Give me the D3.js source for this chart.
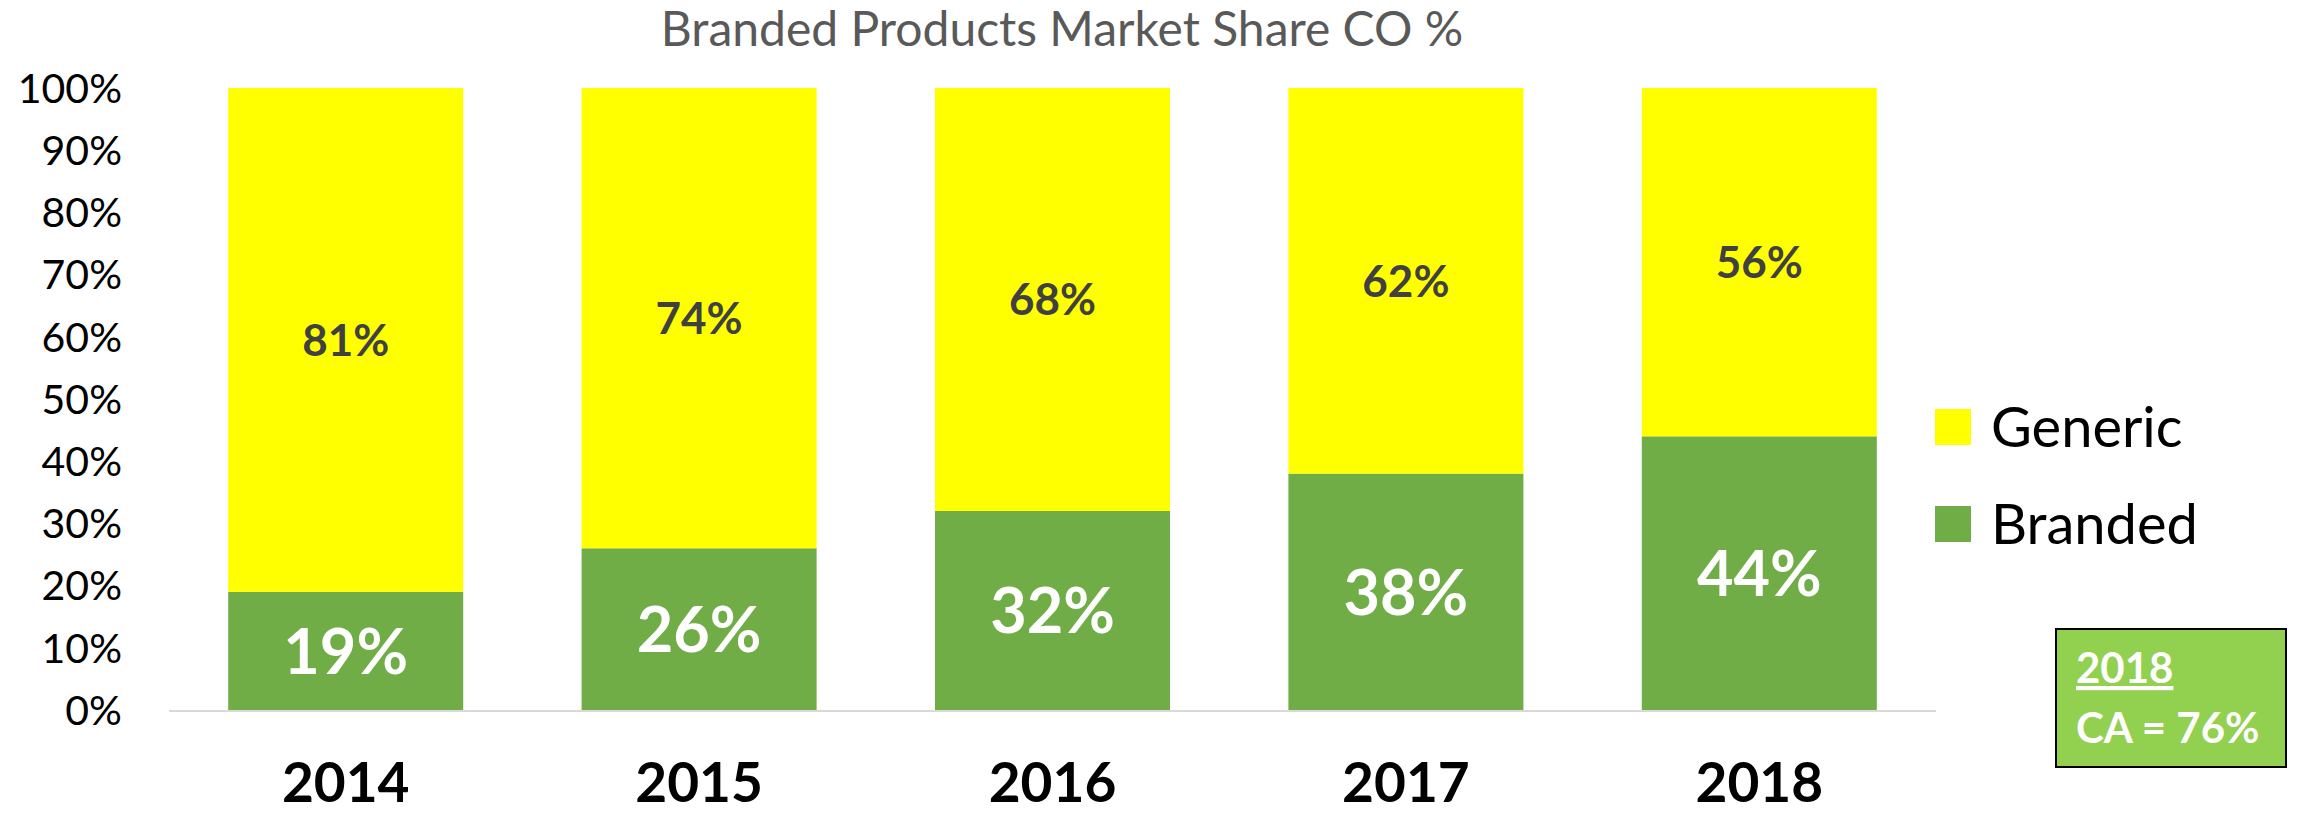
<!DOCTYPE html>
<html>
<head>
<meta charset="utf-8">
<script src="https://cdn.jsdelivr.net/npm/d3@7"></script>
<style>
  body { margin: 0; background: #fff; }
  svg { display: block; font-family: Lato, "Open Sans", sans-serif; }
</style>
</head>
<body>
<svg></svg>
<script>
const years = ["2014", "2015", "2016", "2017", "2018"];
const branded = [19, 26, 32, 38, 44];
const generic = [81, 74, 68, 62, 56];
const yTicks = [0, 10, 20, 30, 40, 50, 60, 70, 80, 90, 100];
const seriesNames = ["Generic", "Branded"];
const noteYear = "2018";
const noteText = "CA = 76%";

const width = 2300;
const height = 816;
const svg = d3.select("svg")
              .attr("width", width)
              .attr("height", height);

const x = d3.scaleBand()
  .domain(years)
  .range([169, 1936])
  .paddingInner(0.335)
  .paddingOuter(0.1675);

const y = d3.scaleLinear().domain([0, 100]).range([710, 88]);

const colors = { Generic: "#FFFF00", Branded: "#70AD47" };

// title
svg.append("text")
  .attr("x", 1062).attr("y", 46)
  .attr("text-anchor", "middle")
  .attr("font-size", 48)
  .attr("fill", "#595959")
  .text("Branded Products Market Share CO %");

// y axis labels (no line)
svg.append("g").selectAll("text")
  .data(yTicks)
  .enter().append("text")
    .attr("x", 122)
    .attr("y", d => y(d))
    .attr("dy", "0.36em")
    .attr("text-anchor", "end")
    .attr("font-size", 41)
    .attr("fill", "#000")
    .text(d => d + "%");

const rows = years.map((yr, i) => ({ year: yr, b: branded[i], g: generic[i] }));

// branded segment
svg.append("g").selectAll("rect")
  .data(rows)
  .enter().append("rect")
    .attr("x", d => x(d.year))
    .attr("width", x.bandwidth())
    .attr("y", d => y(d.b))
    .attr("height", d => y(0) - y(d.b))
    .attr("fill", colors.Branded);

// generic segment on top
svg.append("g").selectAll("rect")
  .data(rows)
  .enter().append("rect")
    .attr("x", d => x(d.year))
    .attr("width", x.bandwidth())
    .attr("y", d => y(d.b + d.g))
    .attr("height", d => y(d.b) - y(d.b + d.g))
    .attr("fill", colors.Generic);

// baseline
svg.append("line")
  .attr("x1", 169).attr("x2", 1936)
  .attr("y1", y(0) + 1).attr("y2", y(0) + 1)
  .attr("stroke", "#D9D9D9")
  .attr("stroke-width", 2);

// labels
svg.append("g").selectAll("text")
  .data(rows)
  .enter().append("text")
    .attr("x", d => x(d.year) + x.bandwidth() / 2)
    .attr("y", d => y(d.b / 2))
    .attr("dy", "0.36em")
    .attr("text-anchor", "middle")
    .attr("font-size", 63)
    .attr("font-weight", "bold")
    .attr("fill", "#fff")
    .text(d => d.b + "%");

svg.append("g").selectAll("text")
  .data(rows)
  .enter().append("text")
    .attr("x", d => x(d.year) + x.bandwidth() / 2)
    .attr("y", d => y(d.b + d.g / 2))
    .attr("dy", "0.36em")
    .attr("text-anchor", "middle")
    .attr("font-size", 44)
    .attr("font-weight", "bold")
    .attr("fill", "#404040")
    .text(d => d.g + "%");

// category labels
svg.append("g").selectAll("text")
  .data(years)
  .enter().append("text")
    .attr("x", d => x(d) + x.bandwidth() / 2)
    .attr("y", 802)
    .attr("text-anchor", "middle")
    .attr("font-size", 55)
    .attr("font-weight", "bold")
    .attr("fill", "#000")
    .text(d => d);

// legend
const legend = svg.append("g").selectAll("g")
  .data(seriesNames)
  .enter().append("g")
    .attr("transform", (d, i) => `translate(1935, ${409 + i * 97})`);
legend.append("rect")
  .attr("width", 36).attr("height", 36)
  .attr("fill", d => colors[d]);
legend.append("text")
  .attr("x", 56).attr("y", 18)
  .attr("dy", "0.36em")
  .attr("font-size", 56)
  .attr("fill", "#000")
  .text(d => d);

// note box
const note = svg.append("g").attr("transform", "translate(2056, 629)");
note.append("rect")
  .attr("width", 230).attr("height", 138)
  .attr("fill", "#92D050")
  .attr("stroke", "#000")
  .attr("stroke-width", 2);
note.append("text")
  .attr("x", 20).attr("y", 54)
  .attr("font-size", 42)
  .attr("font-weight", "bold")
  .attr("fill", "#fff")
  .attr("text-decoration", "underline")
  .text(noteYear);
note.append("text")
  .attr("x", 20).attr("y", 114)
  .attr("font-size", 42)
  .attr("font-weight", "bold")
  .attr("fill", "#fff")
  .text(noteText);
</script>
</body>
</html>
